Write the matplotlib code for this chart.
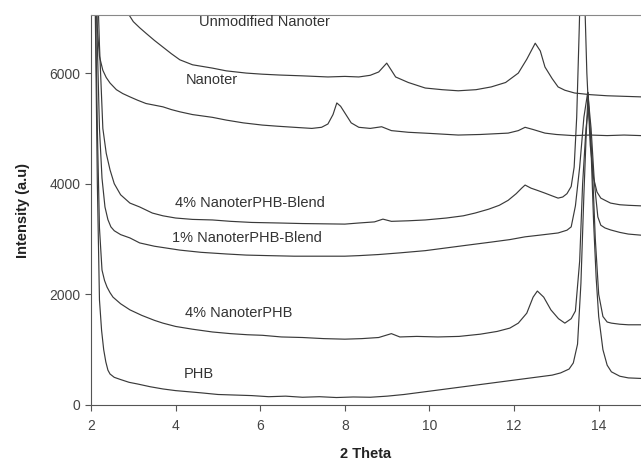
import matplotlib
matplotlib.use("Agg")
import matplotlib.pyplot as plt

plt.rcParams['font.family'] = ['Liberation Sans', 'DejaVu Sans']

# ---- data ----
phb_x = [2.05, 2.1, 2.15, 2.2, 2.25, 2.3, 2.35, 2.4, 2.45, 2.55, 2.7, 2.9, 3.1, 3.4, 3.7, 4.0, 4.3, 4.6,
         5.0, 5.4, 5.8, 6.2, 6.6, 7.0, 7.4, 7.8, 8.2, 8.6, 9.0, 9.4, 9.8, 10.2, 10.6, 11.0, 11.4, 11.8,
         12.2, 12.6, 12.9, 13.1, 13.3, 13.4, 13.5, 13.58, 13.65, 13.7, 13.75, 13.82, 13.88, 13.94, 14.0,
         14.1, 14.2, 14.3, 14.5, 14.7, 15.0]
phb_y = [9000, 7200, 4000, 1900, 1350, 1000, 780, 630, 560, 500, 460, 410, 380, 330, 290, 260, 240, 220,
         190, 180, 170, 150, 160, 140, 150, 135, 145, 140, 160, 190, 230, 270, 310, 350, 390, 430,
         470, 510, 540, 580, 650, 760, 1100, 2200, 3800, 4800, 5650, 4600, 3300, 2300, 1600,
         1000, 720, 600, 520, 490, 480]

n4phb_x = [2.05, 2.1, 2.15, 2.2, 2.26, 2.32, 2.38, 2.45, 2.52, 2.7, 2.92, 3.2, 3.5, 3.7, 4.0, 4.4, 4.87,
           5.3, 5.7, 6.05, 6.5, 7.0, 7.5, 8.0, 8.4, 8.8, 9.1, 9.3, 9.7, 10.2, 10.7, 11.2, 11.6, 11.9,
           12.1, 12.3, 12.45, 12.55, 12.7, 12.87, 13.05, 13.2, 13.35, 13.45, 13.55, 13.62, 13.7, 13.76,
           13.84, 13.92, 14.0, 14.1, 14.2, 14.3, 14.5, 14.7, 15.0]
n4phb_y = [9000, 7500, 5000, 3200, 2440, 2250, 2130, 2030, 1950, 1830, 1720, 1620, 1530, 1480, 1420, 1370, 1320,
           1290, 1270, 1260, 1230, 1220, 1200, 1190, 1200, 1220, 1290, 1230, 1240, 1230, 1240, 1280, 1330, 1390,
           1480, 1660, 1950, 2060, 1950, 1720, 1560, 1480, 1560, 1700, 2600, 4000, 5000, 5400,
           4500, 3000, 2000, 1600, 1500, 1480, 1460, 1450, 1450]

b1_x = [2.05, 2.1, 2.15, 2.2, 2.26, 2.33, 2.4, 2.47, 2.55, 2.7, 2.92, 3.15, 3.5, 4.1, 4.6, 5.2, 5.67, 6.2,
        6.8, 7.4, 8.0, 8.33, 8.8, 9.3, 9.9, 10.4, 10.9, 11.46, 11.9, 12.26, 12.6, 13.04, 13.25, 13.35,
        13.45, 13.55, 13.65, 13.74, 13.82, 13.9, 13.98, 14.05, 14.15, 14.28, 14.5, 14.7, 15.0]
b1_y = [9000, 8200, 6500, 5000, 4100, 3580, 3350, 3220, 3150, 3080, 3020, 2930, 2870, 2800, 2760, 2730, 2710, 2700,
        2690, 2690, 2690, 2700, 2720, 2750, 2790, 2840, 2890, 2945, 2990, 3040, 3070, 3110, 3160, 3220,
        3600, 4300, 5200, 5650, 5000, 4000, 3400, 3250, 3200, 3165, 3120, 3090, 3070]

b4_x = [2.05, 2.12, 2.2, 2.28, 2.36, 2.45, 2.55, 2.7, 2.92, 3.15, 3.45, 3.7, 4.0, 4.4, 4.87, 5.3, 5.8, 6.45,
        7.0, 7.5, 8.0, 8.33, 8.7, 8.9, 9.1, 9.5, 9.9, 10.4, 10.8, 11.08, 11.4, 11.65, 11.86, 12.05, 12.18,
        12.26, 12.4, 12.55, 12.73, 12.9, 13.04, 13.15, 13.25, 13.35, 13.42, 13.48, 13.54, 13.6, 13.66,
        13.72, 13.8, 13.88, 13.96, 14.05, 14.15, 14.28, 14.5, 14.7, 15.0]
b4_y = [9000, 8500, 6500, 5000, 4550, 4250, 4000, 3800, 3650, 3580, 3470, 3420, 3380, 3355, 3345, 3320, 3300, 3290,
        3280, 3275, 3270, 3290, 3310, 3360, 3320, 3330, 3345, 3380, 3420, 3470, 3540, 3610, 3700, 3820, 3920,
        3976, 3920, 3880, 3830, 3780, 3740, 3760, 3820, 3950, 4300, 5200, 6800, 8600, 7600,
        6000, 4700, 4100, 3850, 3740, 3700, 3650, 3620, 3610, 3600]

nan_x = [2.05, 2.1, 2.15, 2.2, 2.28, 2.36, 2.45, 2.6, 2.75, 2.92, 3.1, 3.3, 3.5, 3.7, 3.9, 4.1, 4.4, 4.87, 5.2,
         5.6, 6.05, 6.4, 6.8, 7.22, 7.45, 7.6, 7.72, 7.81, 7.9, 8.0, 8.15, 8.33, 8.6, 8.87, 9.1, 9.5, 10.0,
         10.68, 11.2, 11.86, 12.1, 12.26, 12.45, 12.73, 13.0, 13.4, 13.8, 14.2, 14.6, 15.0]
nan_y = [9000, 8200, 6800, 6300, 6050, 5920, 5820, 5700, 5630, 5570, 5510, 5450, 5420, 5390, 5340, 5300, 5250, 5200, 5150,
         5100, 5060, 5040, 5020, 5000, 5020, 5080, 5250, 5460, 5400, 5280, 5100, 5020, 5000, 5030, 4960, 4930, 4910,
         4880, 4890, 4915, 4960, 5020, 4980, 4915, 4890, 4870, 4880, 4870, 4880, 4870]

unm_x = [2.8, 2.9, 3.0, 3.15, 3.3, 3.5, 3.7, 3.9, 4.1, 4.4, 4.87, 5.2, 5.67, 6.05, 6.45, 7.0, 7.6, 8.0, 8.33,
         8.6, 8.8, 8.99, 9.1, 9.2, 9.5, 9.9, 10.3, 10.68, 11.1, 11.46, 11.8, 12.1, 12.3, 12.5, 12.62, 12.73,
         12.9, 13.04, 13.2, 13.43, 13.8, 14.2, 14.6, 15.0]
unm_y = [7300, 7050, 6930, 6820, 6720, 6590, 6470, 6350, 6240, 6150, 6090, 6040, 6000, 5980, 5965, 5950, 5930, 5940, 5930,
         5960, 6020, 6180, 6050, 5930, 5830, 5730, 5700, 5680, 5700, 5750, 5830, 6000, 6250, 6540, 6400, 6110,
         5900, 5750, 5690, 5640, 5610, 5590, 5580, 5570]

labels = ["Unmodified Nanoter", "Nanoter", "4% NanoterPHB-Blend", "1% NanoterPHB-Blend", "4% NanoterPHB", "PHB"]
label_x = [6.09, 4.85, 5.76, 5.69, 5.5, 4.54]
label_y = [6925, 5875, 3650, 3020, 1665, 560]

x_ticks = [2, 4, 6, 8, 10, 12, 14]
y_ticks = [0, 2000, 4000, 6000]

# ---- plot ----
fig = plt.figure(figsize=(6.41, 4.70), dpi=100)
ax = fig.add_axes([91/641, 65/470, 1 - 91/641, (405 - 15)/470])

line_col = '#3a3a3a'
for xs, ys in [(unm_x, unm_y), (nan_x, nan_y), (b4_x, b4_y), (b1_x, b1_y), (n4phb_x, n4phb_y), (phb_x, phb_y)]:
    ax.plot(xs, ys, color=line_col, lw=0.85)

for t, lx, ly in zip(labels, label_x, label_y):
    ax.text(lx, ly, t, ha='center', va='center', fontsize=10.5, color='#333333')

ax.set_xlim(2, 15)
ax.set_ylim(0, 7050)
ax.set_xticks(x_ticks)
ax.set_yticks(y_ticks)
ax.tick_params(axis='both', direction='out', length=4, width=0.8, colors='#555555',
               labelcolor='#444444', labelsize=10)
ax.tick_params(axis='x', pad=6)
ax.spines['right'].set_visible(False)
ax.spines['top'].set_color('#888888')
ax.spines['left'].set_color('#555555')
ax.spines['bottom'].set_color('#555555')
ax.set_xlabel('2 Theta', fontsize=10.5, fontweight='bold', color='#222222', labelpad=10)
ax.set_ylabel('Intensity (a.u)', fontsize=10.5, fontweight='bold', color='#222222', labelpad=14)

fig.savefig('out.png', dpi=100)
